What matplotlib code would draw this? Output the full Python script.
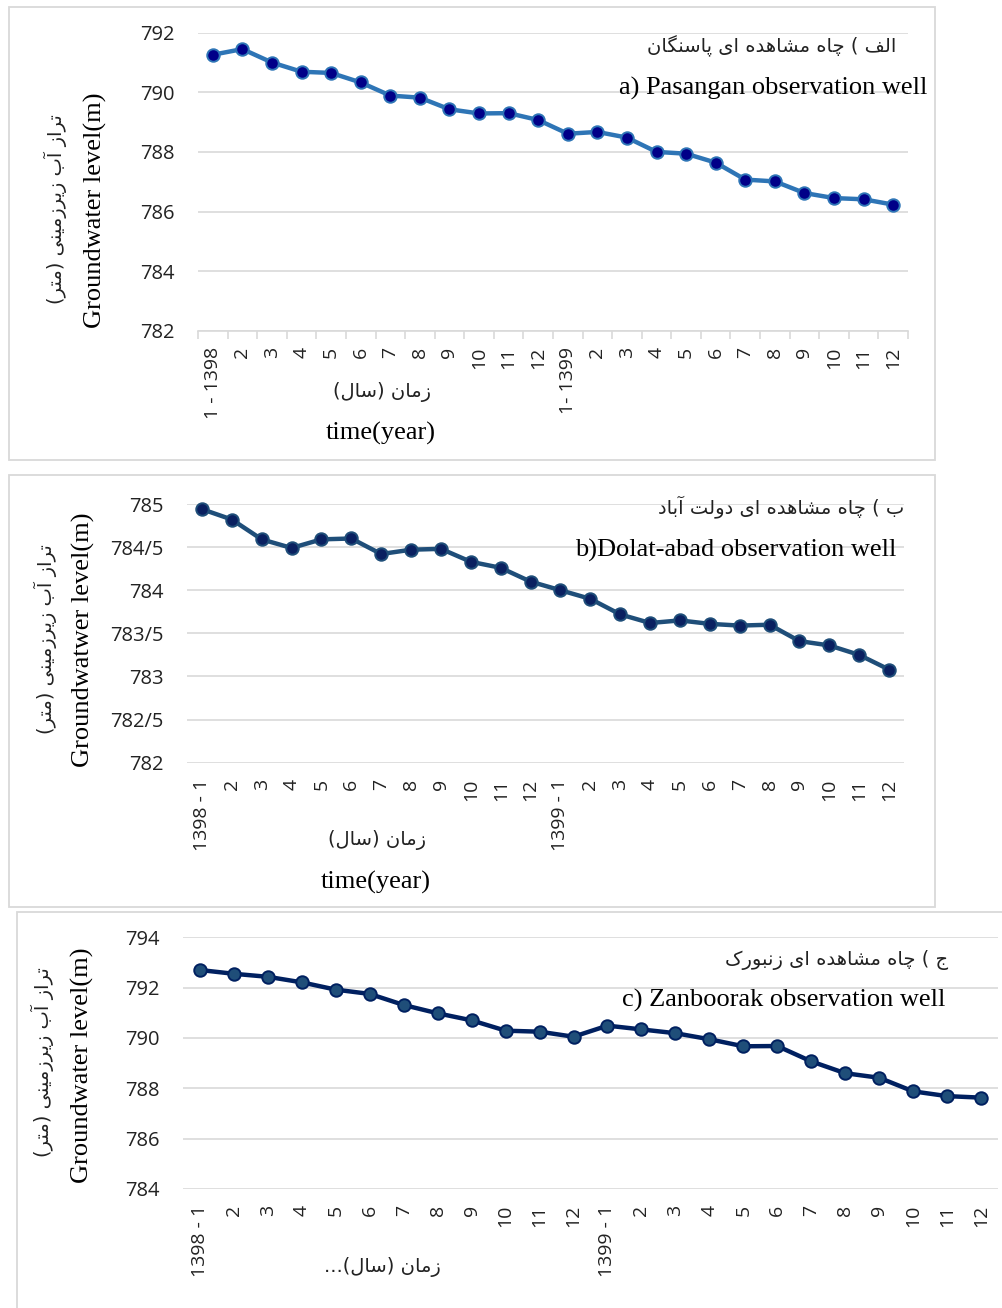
import matplotlib
matplotlib.use("Agg")
import matplotlib.pyplot as plt
from matplotlib.patches import Rectangle
from matplotlib.ticker import FixedLocator

# ---------------- data ----------------
labels_a = ["1 - 1398"] + [str(m) for m in range(2, 13)] + ["1- 1399"] + [str(m) for m in range(2, 13)]
labels_bc = ["1398 - 1"] + [str(m) for m in range(2, 13)] + ["1399 - 1"] + [str(m) for m in range(2, 13)]

pasangan = [791.26, 791.45, 791.00, 790.69, 790.65, 790.33, 789.89, 789.82, 789.43, 789.29,
            789.30, 789.07, 788.61, 788.67, 788.48, 788.00, 787.94, 787.64, 787.07, 787.01,
            786.62, 786.45, 786.41, 786.23]

dolatabad = [784.94, 784.82, 784.59, 784.49, 784.59, 784.60, 784.42, 784.47, 784.48, 784.33,
             784.26, 784.10, 784.00, 783.90, 783.72, 783.62, 783.65, 783.61, 783.59, 783.60,
             783.41, 783.36, 783.25, 783.08]

zanboorak = [792.70, 792.55, 792.43, 792.21, 791.92, 791.75, 791.31, 790.98, 790.70, 790.29,
             790.25, 790.05, 790.49, 790.34, 790.19, 789.95, 789.67, 789.68, 789.07, 788.60,
             788.42, 787.88, 787.69, 787.63]

yticks_a = [782, 784, 786, 788, 790, 792]
yticks_b = [782, 782.5, 783, 783.5, 784, 784.5, 785]
ytick_labels_b = ["782", "782/5", "783", "783/5", "784", "784/5", "785"]
yticks_c = [784, 786, 788, 790, 792, 794]

ylabel_fa = "تراز آب زیرزمینی (متر)"
xlabel_fa = "زمان (سال)"
xlabel_fa_c = "زمان (سال)..."
title_a_fa = "الف ) چاه مشاهده ای پاسنگان"
title_b_fa = "ب ) چاه مشاهده ای دولت آباد"
title_c_fa = "ج ) چاه مشاهده ای زنبورک"

# ---------------- Persian shaping (contextual forms + visual order) ----------------
FORMS = {
    "ا": ("\uFE8D", "\uFE8E", None, None),
    "آ": ("\uFE81", "\uFE82", None, None),
    "ب": ("\uFE8F", "\uFE90", "\uFE91", "\uFE92"),
    "پ": ("\uFB56", "\uFB57", "\uFB58", "\uFB59"),
    "ت": ("\uFE95", "\uFE96", "\uFE97", "\uFE98"),
    "ج": ("\uFE9D", "\uFE9E", "\uFE9F", "\uFEA0"),
    "چ": ("\uFB7A", "\uFB7B", "\uFB7C", "\uFB7D"),
    "د": ("\uFEA9", "\uFEAA", None, None),
    "ر": ("\uFEAD", "\uFEAE", None, None),
    "ز": ("\uFEAF", "\uFEB0", None, None),
    "س": ("\uFEB1", "\uFEB2", "\uFEB3", "\uFEB4"),
    "ش": ("\uFEB5", "\uFEB6", "\uFEB7", "\uFEB8"),
    "ف": ("\uFED1", "\uFED2", "\uFED3", "\uFED4"),
    "ک": ("\uFB8E", "\uFB8F", "\uFB90", "\uFB91"),
    "گ": ("\uFB92", "\uFB93", "\uFB94", "\uFB95"),
    "ل": ("\uFEDD", "\uFEDE", "\uFEDF", "\uFEE0"),
    "م": ("\uFEE1", "\uFEE2", "\uFEE3", "\uFEE4"),
    "ن": ("\uFEE5", "\uFEE6", "\uFEE7", "\uFEE8"),
    "ه": ("\uFEE9", "\uFEEA", "\uFEEB", "\uFEEC"),
    "و": ("\uFEED", "\uFEEE", None, None),
    "ی": ("\uFBFC", "\uFBFD", "\uFBFE", "\uFBFF"),
}


def persian(s):
    out = []
    for i, c in enumerate(s):
        if c not in FORMS:
            out.append(c)
            continue
        iso, fin, ini, med = FORMS[c]
        prev = s[i - 1] if i > 0 else ""
        nxt = s[i + 1] if i + 1 < len(s) else ""
        join_prev = prev in FORMS and FORMS[prev][2] is not None
        join_next = ini is not None and nxt in FORMS
        if join_prev and join_next:
            out.append(med)
        elif join_prev:
            out.append(fin)
        elif join_next:
            out.append(ini)
        else:
            out.append(iso)
    mirror = {"(": ")", ")": "("}
    return "".join(mirror.get(c, c) for c in reversed(out))


# ---------------- figure ----------------
W, H = 1002, 1308
fig = plt.figure(figsize=(W / 100, H / 100), dpi=100)
fig.patch.set_facecolor("white")

GRID = "#D9D9D9"
TICK_FONT = "Open Sans"
SERIF = "Liberation Serif"
FA_FONT = ["DejaVu Sans"]
FA_SIZE = 14
FA_COLOR = "#222222"


def add_axes_px(x0, y0, x1, y1):
    return fig.add_axes([x0 / W, 1 - y1 / H, (x1 - x0) / W, (y1 - y0) / H])


def ftext(x, y, s, **kw):
    fig.text(x / W, 1 - y / H, s, **kw)


def fa_text(x, y, s, **kw):
    ftext(x, y, persian(s), fontsize=FA_SIZE, fontfamily=FA_FONT, color=FA_COLOR, va="center", **kw)


def frame(x0, y0, x1, y1):
    fig.add_artist(Rectangle((x0 / W, 1 - y1 / H), (x1 - x0) / W, (y1 - y0) / H,
                             transform=fig.transFigure, fill=False, ec=GRID, lw=1.3))


def style_axes(ax, values, labels, ylim, yticks, ytick_labels, line_c, face_c, edge_c, axis_ticks):
    x = list(range(len(values)))
    ax.plot(x, values, color=line_c, lw=3.2, marker="o", ms=9, mfc=face_c, mec=edge_c,
            mew=1.4, zorder=3, clip_on=False)
    ax.set_xlim(-0.5, len(values) - 0.5)
    ax.set_ylim(*ylim)
    ax.set_yticks(yticks)
    ax.set_yticklabels(ytick_labels, fontsize=14.5, fontfamily=TICK_FONT, color="#222222")
    ax.set_xticks(x)
    ax.set_xticklabels(labels, rotation=90, fontsize=14, fontfamily=TICK_FONT, color="#222222")
    ax.grid(axis="y", color=GRID, lw=1.2)
    ax.set_axisbelow(True)
    for sp in ax.spines.values():
        sp.set_visible(False)
    ax.tick_params(axis="y", length=0, pad=17)
    ax.tick_params(axis="x", which="major", length=0, pad=11.5)
    if axis_ticks:
        ax.spines["bottom"].set_visible(True)
        ax.spines["bottom"].set_color(GRID)
        ax.spines["bottom"].set_linewidth(1.2)
        ax.xaxis.set_minor_locator(FixedLocator([i - 0.5 for i in range(len(values) + 1)]))
        ax.tick_params(axis="x", which="minor", length=6, width=1.2, color=GRID)
    ax.set_facecolor("none")


# ---- panel a : Pasangan ----
frame(9, 7, 935, 460)
ax1 = add_axes_px(198, 32.7, 908, 330.7)
style_axes(ax1, pasangan, labels_a, (782, 792), yticks_a, [str(t) for t in yticks_a],
           "#2E75B6", "#000088", "#2E75B6", True)
fa_text(896, 46, title_a_fa, ha="right")
ftext(927, 88, "a) Pasangan observation well", fontsize=19, fontfamily=SERIF, ha="right", va="center")
ftext(95, 210, "Groundwater level(m)", fontsize=19, fontfamily=SERIF, rotation=90, ha="center", va="center")
fa_text(55, 209, ylabel_fa, rotation=90, ha="center")
fa_text(382, 392, xlabel_fa, ha="center")
ftext(381, 433, "time(year)", fontsize=19, fontfamily=SERIF, ha="center", va="center")

# ---- panel b : Dolat-abad ----
frame(9, 475, 935, 907)
ax2 = add_axes_px(187, 504, 904, 762.7)
style_axes(ax2, dolatabad, labels_bc, (782, 785), yticks_b, ytick_labels_b,
           "#1F4E79", "#0A2060", "#1F4E79", False)
fa_text(904, 507, title_b_fa, ha="right")
ftext(896, 550, "b)Dolat-abad observation well", fontsize=19, fontfamily=SERIF, ha="right", va="center")
ftext(83, 640, "Groundwatwer level(m)", fontsize=19, fontfamily=SERIF, rotation=90, ha="center", va="center")
fa_text(45, 639, ylabel_fa, rotation=90, ha="center")
fa_text(377, 840, xlabel_fa, ha="center")
ftext(376, 882, "time(year)", fontsize=19, fontfamily=SERIF, ha="center", va="center")

# ---- panel c : Zanboorak ----
frame(17, 912, 1010, 1320)
ax3 = add_axes_px(183, 937.3, 998, 1189)
style_axes(ax3, zanboorak, labels_bc, (784, 794), yticks_c, [str(t) for t in yticks_c],
           "#002060", "#1F4E79", "#002060", False)
fa_text(948, 960, title_c_fa, ha="right")
ftext(945, 1000, "c) Zanboorak observation well", fontsize=19, fontfamily=SERIF, ha="right", va="center")
ftext(82, 1065, "Groundwater level(m)", fontsize=19, fontfamily=SERIF, rotation=90, ha="center", va="center")
fa_text(42, 1062, ylabel_fa, rotation=90, ha="center")
fa_text(382, 1267, xlabel_fa_c, ha="center")

fig.savefig("out.png", dpi=100, facecolor="white")
